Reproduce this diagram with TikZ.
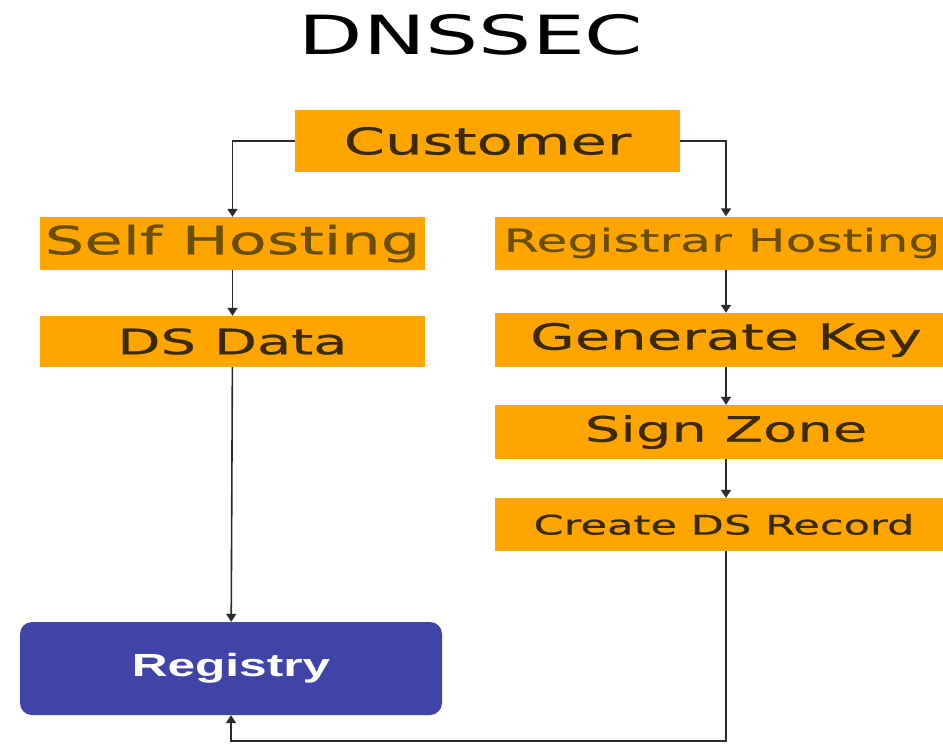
\documentclass[tikz,border=0pt]{standalone}
\usepackage{fontspec}
\usepackage{tikz}
\usetikzlibrary{arrows.meta}
\newfontfamily\stepfont[FakeStretch=1.6,FakeBold=0.5]{DejaVu Sans}
\newfontfamily\titlefont[FakeStretch=1.55]{DejaVu Sans}
\newfontfamily\regfont[FakeStretch=1.55]{Liberation Sans}
\definecolor{boxorange}{HTML}{FFA500}
\definecolor{boxtext}{HTML}{3A2A00}
\definecolor{hosttext}{HTML}{6A4E00}
\definecolor{regblue}{HTML}{4044A8}
\definecolor{wire}{HTML}{2B2B2B}

\begin{document}
\begin{tikzpicture}[x=1pt,y=-1pt,
        stepbox/.style={fill=boxorange,text=boxtext,inner sep=0pt,
            minimum width=385pt,minimum height=53pt},
        rightbox/.style={stepbox,minimum width=462pt},
        arr/.style={draw=wire,line width=1.6pt,-{Triangle[width=10pt,length=8pt]}}]
    \useasboundingbox (0,0) rectangle (943,745);
    \clip (0,0) rectangle (943,745);
    \node (title) at (471,35) {\titlefont\fontsize{54}{57}\selectfont DNSSEC};
    \node[stepbox,minimum height=62pt] (cust) at (487.5,141) {\stepfont\fontsize{37}{40}\selectfont Customer};
    % left branch
    \node[stepbox,text=hosttext] (self) at (232.5,243.5) {\stepfont\fontsize{39}{42}\selectfont Self Hosting};
    \node[stepbox,minimum height=51pt] (dsdata) at (232.5,341.5) {\stepfont\fontsize{35}{38}\selectfont DS Data};
    % right branch
    \node[rightbox,text=hosttext] (reghost) at (726,243) {\stepfont\fontsize{31.5}{35}\selectfont Registrar Hosting\hspace*{8pt}};
    \node[rightbox,minimum height=54pt] (genkey) at (726,340) {\stepfont\fontsize{36}{39}\selectfont Generate Key};
    \node[rightbox,minimum height=54pt] (signzone) at (726,432) {\stepfont\fontsize{35}{38}\selectfont Sign Zone};
    \node[rightbox] (createds) at (726,524.5) {\stepfont\fontsize{27}{30}\selectfont Create DS Record\hspace*{4pt}};
    \node[fill=regblue,text=white,rounded corners=12pt,minimum width=422pt,minimum height=93pt] (registry) at (231,668.5)
        {\regfont\bfseries\fontsize{32}{34}\selectfont Registry};
    \coordinate (back) at (231,741);

    \draw[arr] (cust.west) -| (self.north);
    \draw[arr] (cust.east) -| (reghost.north);
    \draw[arr] (self) -- (dsdata);
    \draw[arr] (dsdata) -- (registry);
    \draw[arr] (reghost) -- (genkey);
    \draw[arr] (genkey) -- (signzone);
    \draw[arr] (signzone) -- (createds);
    \draw[arr] (createds.south) |- (back) -- (registry.south);
\end{tikzpicture}
\end{document}
